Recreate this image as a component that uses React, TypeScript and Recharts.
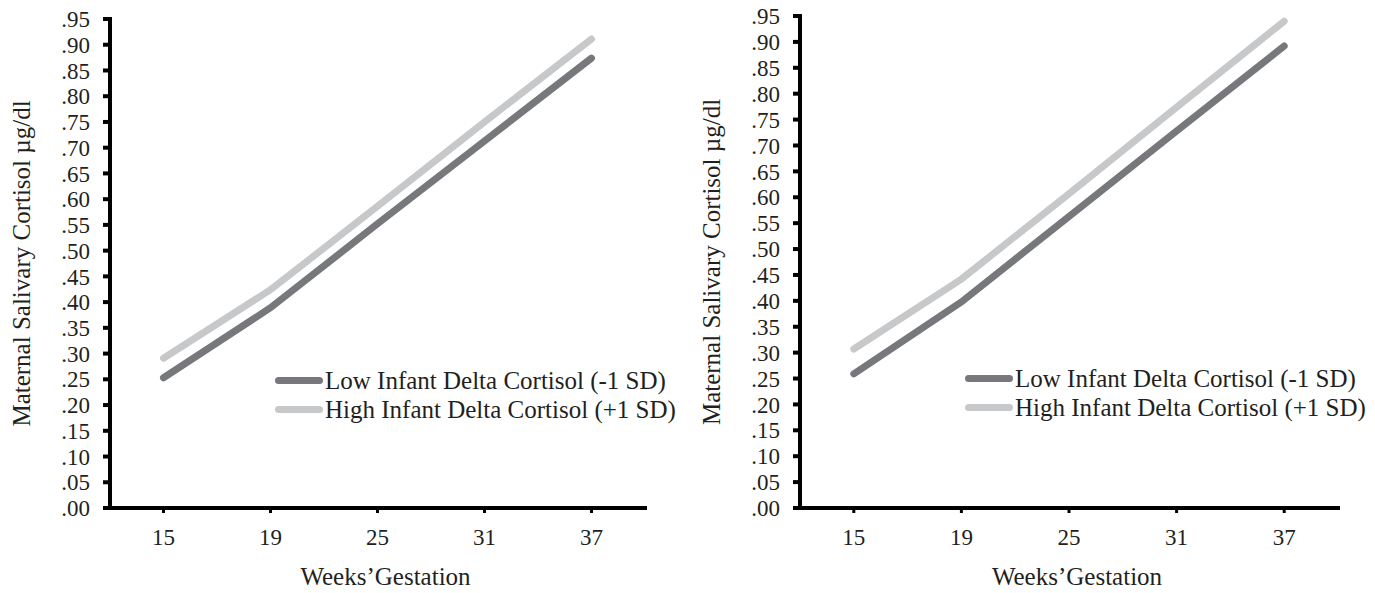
import React from 'react';
import { LineChart, Line, XAxis, YAxis, Legend } from 'recharts';

const weeks = ['15', '19', '25', '31', '37'];
const yTicks = [0, 0.05, 0.1, 0.15, 0.2, 0.25, 0.3, 0.35, 0.4, 0.45, 0.5, 0.55, 0.6, 0.65, 0.7, 0.75, 0.8, 0.85, 0.9, 0.95];

const leftLow = [0.253, 0.389, 0.552, 0.713, 0.874];
const leftHigh = [0.291, 0.424, 0.586, 0.75, 0.911];
const rightLow = [0.259, 0.398, 0.563, 0.728, 0.892];
const rightHigh = [0.307, 0.442, 0.607, 0.774, 0.94];

const lowName = 'Low Infant Delta Cortisol (-1 SD)';
const highName = 'High Infant Delta Cortisol (+1 SD)';
const legendOrder = [lowName, highName];

const font = '"Liberation Serif", "Times New Roman", serif';
const ink = '#231f20';
const darkGray = '#77787b';
const lightGray = '#c7c8ca';

const makeRows = (low: number[], high: number[]) =>
  weeks.map((w, i) => ({ week: w, low: low[i], high: high[i] }));

const fmt = (v: number) => v.toFixed(2).replace(/^0/, '');

const LegendBox = ({ payload }: any) => {
  const items = [...(payload || [])].sort((a: any, b: any) => legendOrder.indexOf(a.value) - legendOrder.indexOf(b.value));
  return (
    <div style={{ fontFamily: font, fontSize: 25, color: ink }}>
      {items.map((p: any) => (
        <div key={p.value} style={{ display: 'flex', alignItems: 'center', height: 29, whiteSpace: 'nowrap' }}>
          <span style={{ display: 'inline-block', width: 48, height: 7, borderRadius: 4, background: p.color, marginRight: 2 }} />
          <span>{p.value}</span>
        </div>
      ))}
    </div>
  );
};

const Panel = ({ low, high, width, top, right, legendTop }: any) => (
  <LineChart width={width} height={593} data={makeRows(low, high)} margin={{ top, right, bottom: 5, left: 0 }}>
    <XAxis
      dataKey="week"
      scale="band"
      height={80}
      axisLine={{ stroke: '#000', strokeWidth: 4, strokeLinecap: 'square' }}
      tickLine={{ stroke: '#000', strokeWidth: 3 }}
      tickSize={5}
      tickMargin={16}
      tick={{ fill: ink, fontSize: 23, fontFamily: font }}
      label={{ value: 'Weeks’Gestation', position: 'insideBottom', offset: 3, dx: 8, fill: ink, fontSize: 25, fontFamily: font }}
    />
    <YAxis
      width={110}
      domain={[0, 0.95]}
      ticks={yTicks}
      interval={0}
      tickFormatter={fmt}
      axisLine={{ stroke: '#000', strokeWidth: 4, strokeLinecap: 'square' }}
      tickLine={{ stroke: '#000', strokeWidth: 4 }}
      tickSize={7}
      tickMargin={13}
      tick={{ fill: ink, fontSize: 23, fontFamily: font }}
      label={{
        value: 'Maternal Salivary Cortisol µg/dl',
        angle: -90,
        position: 'insideLeft',
        offset: 21,
        fill: ink,
        fontSize: 25,
        fontFamily: font,
        style: { textAnchor: 'middle' },
      }}
    />
    <Legend
      layout="vertical"
      align="center"
      verticalAlign="middle"
      content={<LegendBox />}
      wrapperStyle={{ left: 275, top: legendTop, width: 'auto', bottom: 'auto' }}
    />
    <Line dataKey="low" name={lowName} stroke={darkGray} strokeWidth={7} strokeLinecap="round" dot={false} isAnimationActive={false} />
    <Line dataKey="high" name={highName} stroke={lightGray} strokeWidth={7} strokeLinecap="round" dot={false} isAnimationActive={false} />
  </LineChart>
);

export default function App() {
  return (
    <div style={{ position: 'absolute', left: 0, top: 0, width: 1375, height: 593, background: '#fff' }}>
      <div style={{ position: 'absolute', left: 0, top: 0 }}>
        <Panel low={leftLow} high={leftHigh} width={690} top={19} right={45} legendTop={366} />
      </div>
      <div style={{ position: 'absolute', left: 690, top: 0 }}>
        <Panel low={rightLow} high={rightHigh} width={685} top={16} right={37} legendTop={364} />
      </div>
    </div>
  );
}
